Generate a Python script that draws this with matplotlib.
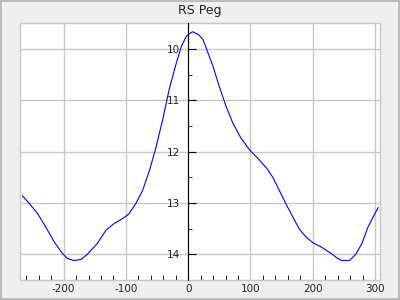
import matplotlib
matplotlib.use("Agg")
import matplotlib.pyplot as plt
from matplotlib.ticker import MultipleLocator

# phase (days) and magnitude
phase = [-266, -255, -242, -229, -215, -202, -194, -184, -172, -162, -146, -132,
         -119, -105, -95, -84, -73, -62, -52, -41, -30, -19, -11, -3, 2, 7, 17,
         24, 29, 40, 50, 61, 72, 85, 99, 112, 126, 136, 147, 158, 168, 179, 190,
         201, 214, 228, 238, 246, 259, 269, 279, 289, 297, 305]
mag = [12.86, 13.01, 13.20, 13.46, 13.76, 13.98, 14.08, 14.12, 14.10, 14.00,
       13.79, 13.53, 13.40, 13.30, 13.21, 13.01, 12.75, 12.36, 11.93, 11.38,
       10.76, 10.27, 9.95, 9.75, 9.70, 9.66, 9.72, 9.82, 9.98, 10.34, 10.73,
       11.12, 11.45, 11.74, 11.97, 12.13, 12.32, 12.50, 12.77, 13.04, 13.27,
       13.52, 13.67, 13.78, 13.86, 13.97, 14.06, 14.12, 14.12, 14.00, 13.79,
       13.46, 13.27, 13.09]

plt.rcParams['axes.unicode_minus'] = False
grid_c = '#c8c8c8'

fig = plt.figure(figsize=(4, 3), dpi=100, facecolor='#efefef',
                 edgecolor='#bdbdbd', linewidth=1.5)
ax = fig.add_axes([0.05, 0.0667, 0.9, 0.855])
ax.plot(phase, mag, color='#0000ff', linewidth=0.8)

ax.set_xlim(-270, 308)
ax.set_ylim(14.5, 9.5)

ax.xaxis.set_major_locator(MultipleLocator(100))
ax.xaxis.set_minor_locator(MultipleLocator(20))
ax.yaxis.set_major_locator(MultipleLocator(1))
ax.yaxis.set_minor_locator(MultipleLocator(0.5))

ax.grid(True, which='major', color=grid_c, linewidth=1)
ax.set_axisbelow(True)

for side in ['top', 'right', 'bottom']:
    ax.spines[side].set_color(grid_c)
ax.spines['left'].set_position(('data', 0))
ax.spines['left'].set_color('black')
ax.spines['left'].set_zorder(3)
ax.patch.set_edgecolor(grid_c)
ax.patch.set_linewidth(1)

ax.tick_params(axis='x', which='major', length=0, labelsize=7.5, pad=3, labelcolor='#222222')
ax.tick_params(axis='x', which='minor', direction='in', length=3.5, color='black')
ax.tick_params(axis='y', which='major', direction='in', length=6, labelsize=7.5, pad=6, labelcolor='#222222')
ax.tick_params(axis='y', which='minor', direction='in', length=3)

ax.set_title("RS Peg", fontsize=9, pad=7, color='#222222')

fig.savefig("out.png", dpi=100, facecolor=fig.get_facecolor(), edgecolor=fig.get_edgecolor())
